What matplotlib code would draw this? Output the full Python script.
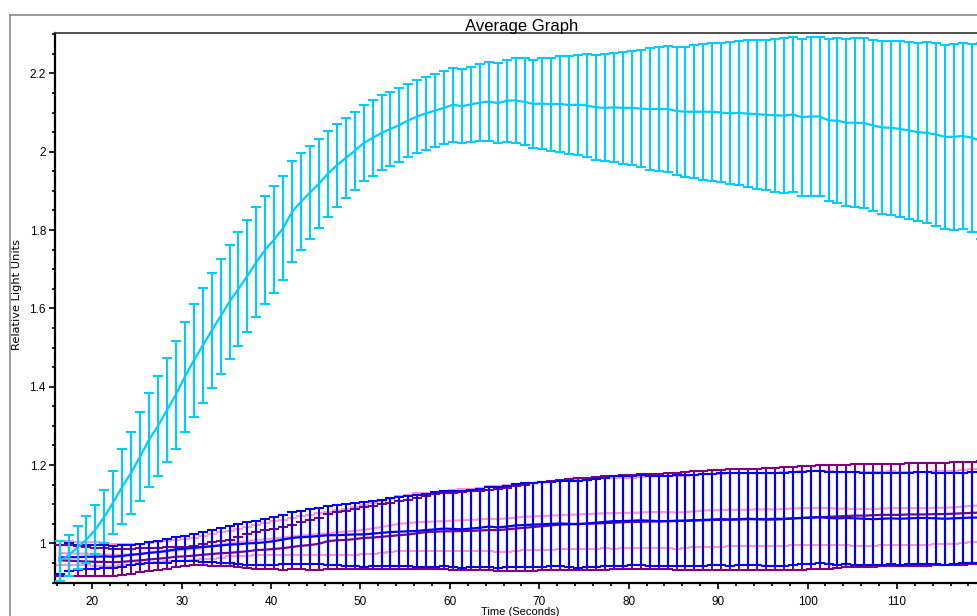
import numpy as np
import matplotlib
matplotlib.use("Agg")
import matplotlib.pyplot as plt
from matplotlib.lines import Line2D
from matplotlib.ticker import MultipleLocator, FuncFormatter

plt.rcParams['font.family'] = ['Liberation Sans', 'DejaVu Sans']

# Sampling times (s): one reading per second
time_s = np.arange(16.35, 119.4, 1.0)

cyan_mean = [0.955, 0.970, 0.990, 1.010, 1.035, 1.068, 1.105, 1.145, 1.180, 1.222,
             1.265, 1.300, 1.340, 1.380, 1.425, 1.467, 1.505, 1.543, 1.580, 1.617,
             1.650, 1.683, 1.718, 1.750, 1.776, 1.805, 1.847, 1.872, 1.896, 1.918,
             1.944, 1.965, 1.984, 2.002, 2.022, 2.035, 2.048, 2.058, 2.068, 2.080,
             2.090, 2.098, 2.105, 2.112, 2.120, 2.116, 2.121, 2.125, 2.128, 2.124,
             2.130, 2.131, 2.127, 2.122, 2.123, 2.121, 2.122, 2.119, 2.120, 2.118,
             2.113, 2.112, 2.113, 2.112, 2.112, 2.110, 2.109, 2.109, 2.109, 2.104,
             2.102, 2.102, 2.102, 2.102, 2.100, 2.098, 2.099, 2.097, 2.096, 2.094,
             2.093, 2.092, 2.095, 2.088, 2.090, 2.090, 2.080, 2.079, 2.074, 2.074,
             2.073, 2.067, 2.062, 2.061, 2.058, 2.054, 2.050, 2.048, 2.044, 2.038,
             2.038, 2.040, 2.036, 2.028]
cyan_err = [0.050, 0.052, 0.055, 0.060, 0.063, 0.068, 0.080, 0.095, 0.105, 0.113,
            0.120, 0.127, 0.133, 0.138, 0.141, 0.144, 0.146, 0.147, 0.147, 0.146,
            0.145, 0.143, 0.141, 0.138, 0.136, 0.133, 0.129, 0.124, 0.119, 0.114,
            0.110, 0.106, 0.103, 0.100, 0.098, 0.097, 0.096, 0.095, 0.094, 0.093,
            0.093, 0.093, 0.093, 0.093, 0.094, 0.095, 0.096, 0.098, 0.100, 0.102,
            0.105, 0.108, 0.111, 0.113, 0.116, 0.119, 0.122, 0.125, 0.128, 0.131,
            0.134, 0.137, 0.140, 0.143, 0.146, 0.150, 0.155, 0.158, 0.160, 0.163,
            0.166, 0.170, 0.173, 0.176, 0.178, 0.181, 0.184, 0.187, 0.190, 0.192,
            0.195, 0.197, 0.198, 0.200, 0.202, 0.204, 0.207, 0.210, 0.213, 0.215,
            0.216, 0.218, 0.220, 0.222, 0.224, 0.226, 0.228, 0.231, 0.233, 0.235,
            0.237, 0.238, 0.240, 0.250]

blue_mean = [0.964, 0.965, 0.965, 0.966, 0.966, 0.967, 0.966, 0.968, 0.971, 0.973,
             0.976, 0.978, 0.981, 0.985, 0.987, 0.989, 0.991, 0.993, 0.995, 0.997,
             0.998, 1.000, 1.001, 1.003, 1.006, 1.010, 1.014, 1.016, 1.017, 1.019,
             1.021, 1.021, 1.022, 1.023, 1.023, 1.025, 1.027, 1.029, 1.030, 1.031,
             1.032, 1.034, 1.036, 1.038, 1.037, 1.036, 1.038, 1.040, 1.043, 1.041,
             1.043, 1.046, 1.047, 1.048, 1.049, 1.050, 1.051, 1.050, 1.049, 1.051,
             1.053, 1.055, 1.057, 1.057, 1.058, 1.059, 1.058, 1.057, 1.057, 1.058,
             1.058, 1.059, 1.060, 1.061, 1.062, 1.061, 1.062, 1.063, 1.062, 1.061,
             1.061, 1.062, 1.064, 1.065, 1.066, 1.067, 1.065, 1.064, 1.065, 1.064,
             1.063, 1.062, 1.063, 1.064, 1.063, 1.064, 1.065, 1.065, 1.064, 1.063,
             1.064, 1.065, 1.066, 1.066]
blue_err = [0.043, 0.036, 0.032, 0.031, 0.030, 0.030, 0.028, 0.027, 0.026, 0.026,
            0.027, 0.029, 0.030, 0.031, 0.032, 0.035, 0.038, 0.041, 0.045, 0.048,
            0.051, 0.054, 0.057, 0.059, 0.061, 0.063, 0.066, 0.068, 0.070, 0.072,
            0.075, 0.077, 0.079, 0.081, 0.082, 0.083, 0.085, 0.087, 0.088, 0.089,
            0.091, 0.093, 0.095, 0.096, 0.097, 0.098, 0.099, 0.100, 0.102, 0.103,
            0.104, 0.105, 0.106, 0.107, 0.108, 0.108, 0.109, 0.110, 0.111, 0.112,
            0.112, 0.113, 0.114, 0.114, 0.114, 0.115, 0.115, 0.115, 0.115, 0.116,
            0.116, 0.116, 0.117, 0.117, 0.117, 0.118, 0.118, 0.118, 0.118, 0.119,
            0.119, 0.119, 0.119, 0.118, 0.118, 0.118, 0.118, 0.118, 0.118, 0.118,
            0.118, 0.118, 0.118, 0.117, 0.117, 0.117, 0.117, 0.117, 0.117, 0.117,
            0.117, 0.116, 0.116, 0.116]

purple_mean = [0.957, 0.956, 0.955, 0.954, 0.953, 0.953, 0.952, 0.953, 0.955, 0.957,
               0.959, 0.961, 0.963, 0.966, 0.967, 0.969, 0.971, 0.973, 0.975, 0.976,
               0.978, 0.980, 0.983, 0.984, 0.986, 0.988, 0.991, 0.994, 0.996, 0.999,
               1.006, 1.008, 1.009, 1.011, 1.014, 1.015, 1.017, 1.019, 1.021, 1.023,
               1.026, 1.029, 1.030, 1.031, 1.031, 1.032, 1.032, 1.033, 1.034, 1.034,
               1.036, 1.038, 1.040, 1.042, 1.044, 1.046, 1.048, 1.049, 1.050, 1.050,
               1.051, 1.052, 1.053, 1.054, 1.055, 1.055, 1.056, 1.056, 1.057, 1.057,
               1.058, 1.059, 1.059, 1.060, 1.060, 1.061, 1.061, 1.062, 1.062, 1.062,
               1.063, 1.063, 1.064, 1.065, 1.066, 1.067, 1.068, 1.069, 1.070, 1.071,
               1.071, 1.072, 1.073, 1.073, 1.073, 1.074, 1.074, 1.074, 1.075, 1.075,
               1.076, 1.077, 1.078, 1.079]
purple_err = [0.040, 0.039, 0.038, 0.037, 0.036, 0.035, 0.034, 0.033, 0.032, 0.031,
              0.030, 0.028, 0.027, 0.026, 0.025, 0.025, 0.027, 0.030, 0.032, 0.034,
              0.038, 0.043, 0.047, 0.050, 0.052, 0.055, 0.057, 0.060, 0.063, 0.066,
              0.070, 0.073, 0.075, 0.077, 0.079, 0.081, 0.083, 0.085, 0.087, 0.089,
              0.091, 0.093, 0.095, 0.097, 0.099, 0.100, 0.101, 0.102, 0.103, 0.104,
              0.106, 0.108, 0.110, 0.112, 0.113, 0.114, 0.115, 0.116, 0.117, 0.118,
              0.118, 0.119, 0.119, 0.120, 0.120, 0.121, 0.121, 0.122, 0.123, 0.124,
              0.125, 0.126, 0.126, 0.127, 0.127, 0.128, 0.128, 0.129, 0.129, 0.130,
              0.130, 0.131, 0.131, 0.132, 0.132, 0.132, 0.132, 0.131, 0.131, 0.131,
              0.131, 0.131, 0.130, 0.130, 0.130, 0.131, 0.131, 0.131, 0.131, 0.131,
              0.131, 0.131, 0.131, 0.131]

pink_mean = [0.975, 0.975, 0.974, 0.974, 0.973, 0.972, 0.971, 0.971, 0.972, 0.974,
             0.976, 0.978, 0.980, 0.982, 0.984, 0.986, 0.989, 0.992, 0.996, 1.000,
             1.003, 1.006, 1.009, 1.011, 1.013, 1.015, 1.018, 1.020, 1.022, 1.024,
             1.026, 1.028, 1.030, 1.032, 1.035, 1.038, 1.042, 1.046, 1.050, 1.052,
             1.054, 1.055, 1.056, 1.057, 1.058, 1.059, 1.060, 1.061, 1.063, 1.062,
             1.064, 1.066, 1.068, 1.069, 1.070, 1.071, 1.072, 1.073, 1.074, 1.075,
             1.076, 1.077, 1.077, 1.078, 1.078, 1.079, 1.080, 1.080, 1.080, 1.079,
             1.080, 1.082, 1.084, 1.085, 1.085, 1.086, 1.086, 1.086, 1.087, 1.087,
             1.087, 1.088, 1.089, 1.090, 1.090, 1.091, 1.090, 1.089, 1.089, 1.088,
             1.088, 1.088, 1.089, 1.090, 1.090, 1.090, 1.090, 1.090, 1.091, 1.091,
             1.092, 1.094, 1.096, 1.097]
pink_err = [0.030, 0.030, 0.030, 0.030, 0.030, 0.029, 0.028, 0.027, 0.026, 0.025,
            0.025, 0.025, 0.026, 0.027, 0.028, 0.029, 0.030, 0.031, 0.032, 0.033,
            0.035, 0.037, 0.039, 0.041, 0.043, 0.045, 0.047, 0.049, 0.051, 0.053,
            0.055, 0.057, 0.059, 0.061, 0.062, 0.064, 0.066, 0.068, 0.070, 0.072,
            0.074, 0.075, 0.076, 0.077, 0.078, 0.079, 0.080, 0.081, 0.083, 0.084,
            0.085, 0.085, 0.086, 0.086, 0.087, 0.087, 0.087, 0.088, 0.088, 0.088,
            0.089, 0.089, 0.090, 0.090, 0.090, 0.091, 0.091, 0.092, 0.092, 0.092,
            0.092, 0.092, 0.093, 0.093, 0.093, 0.093, 0.093, 0.093, 0.093, 0.093,
            0.093, 0.094, 0.094, 0.094, 0.094, 0.094, 0.094, 0.094, 0.094, 0.094,
            0.094, 0.094, 0.094, 0.094, 0.093, 0.093, 0.093, 0.093, 0.093, 0.093,
            0.093, 0.093, 0.093, 0.093]

series = [
    (pink_mean, pink_err, '#FF99CC', 2),
    (purple_mean, purple_err, '#800080', 3),
    (blue_mean, blue_err, '#0000FF', 4),
    (cyan_mean, cyan_err, '#00CCFF', 5),
]

W, H = 978, 616
fig = plt.figure(figsize=(W / 100, H / 100), dpi=100)

# plot area runs past the right edge of the canvas
ax_left, ax_top, ax_right, ax_bottom = 55, 33, 989, 583
ax = fig.add_axes([ax_left / W, (H - ax_bottom) / H,
                   (ax_right - ax_left) / W, (ax_bottom - ax_top) / H])

for mean, err, col, z in series:
    ax.errorbar(time_s, mean, yerr=err, color=col, lw=1.6, elinewidth=1.5,
                capsize=3.3, capthick=1.5, zorder=z)

ax.set_xlim(15.83, 120.3)
ax.set_ylim(0.899, 2.303)

ax.xaxis.set_major_locator(MultipleLocator(10))
ax.xaxis.set_minor_locator(MultipleLocator(2))
ax.yaxis.set_major_locator(MultipleLocator(0.2))
ax.yaxis.set_minor_locator(MultipleLocator(0.05))
ax.yaxis.set_major_formatter(FuncFormatter(lambda v, p: f"{v:g}"))
ax.xaxis.set_major_formatter(FuncFormatter(lambda v, p: f"{v:g}"))

ax.tick_params(axis='both', which='major', direction='out', length=4.5, width=1.2,
               labelsize=8.5, colors='black', pad=2)
ax.tick_params(axis='both', which='minor', direction='out', length=2.5, width=1.2)
ax.tick_params(axis='x', which='major', pad=5)
ax.tick_params(top=False, right=False)

ax.spines['left'].set_linewidth(1.6)
ax.spines['bottom'].set_linewidth(1.6)
ax.spines['left'].set_color('black')
ax.spines['bottom'].set_color('black')
ax.spines['top'].set_linewidth(1.3)
ax.spines['top'].set_color('#404040')
ax.spines['right'].set_visible(False)

# outer frame of the graph window
fig.add_artist(Line2D([10 / W, 10 / W], [-0.05, 1 - 15 / H], transform=fig.transFigure,
                      color='#8a8a8a', lw=1.2))
fig.add_artist(Line2D([10 / W, 1.05], [1 - 15 / H, 1 - 15 / H], transform=fig.transFigure,
                      color='#8a8a8a', lw=1.2))

fig.text(521.7 / W, 1 - 30.7 / H, 'Average Graph', ha='center', va='baseline',
         fontsize=12, color='black')
fig.text(520 / W, 1 - 607 / H, 'Time (Seconds)', ha='center', va='top',
         fontsize=8, color='black')
fig.text(17 / W, 1 - 294 / H, 'Relative Light Units', rotation=90, ha='center',
         va='center', fontsize=8.2, family='DejaVu Sans', color='black')

fig.savefig('out.png', dpi=100)
